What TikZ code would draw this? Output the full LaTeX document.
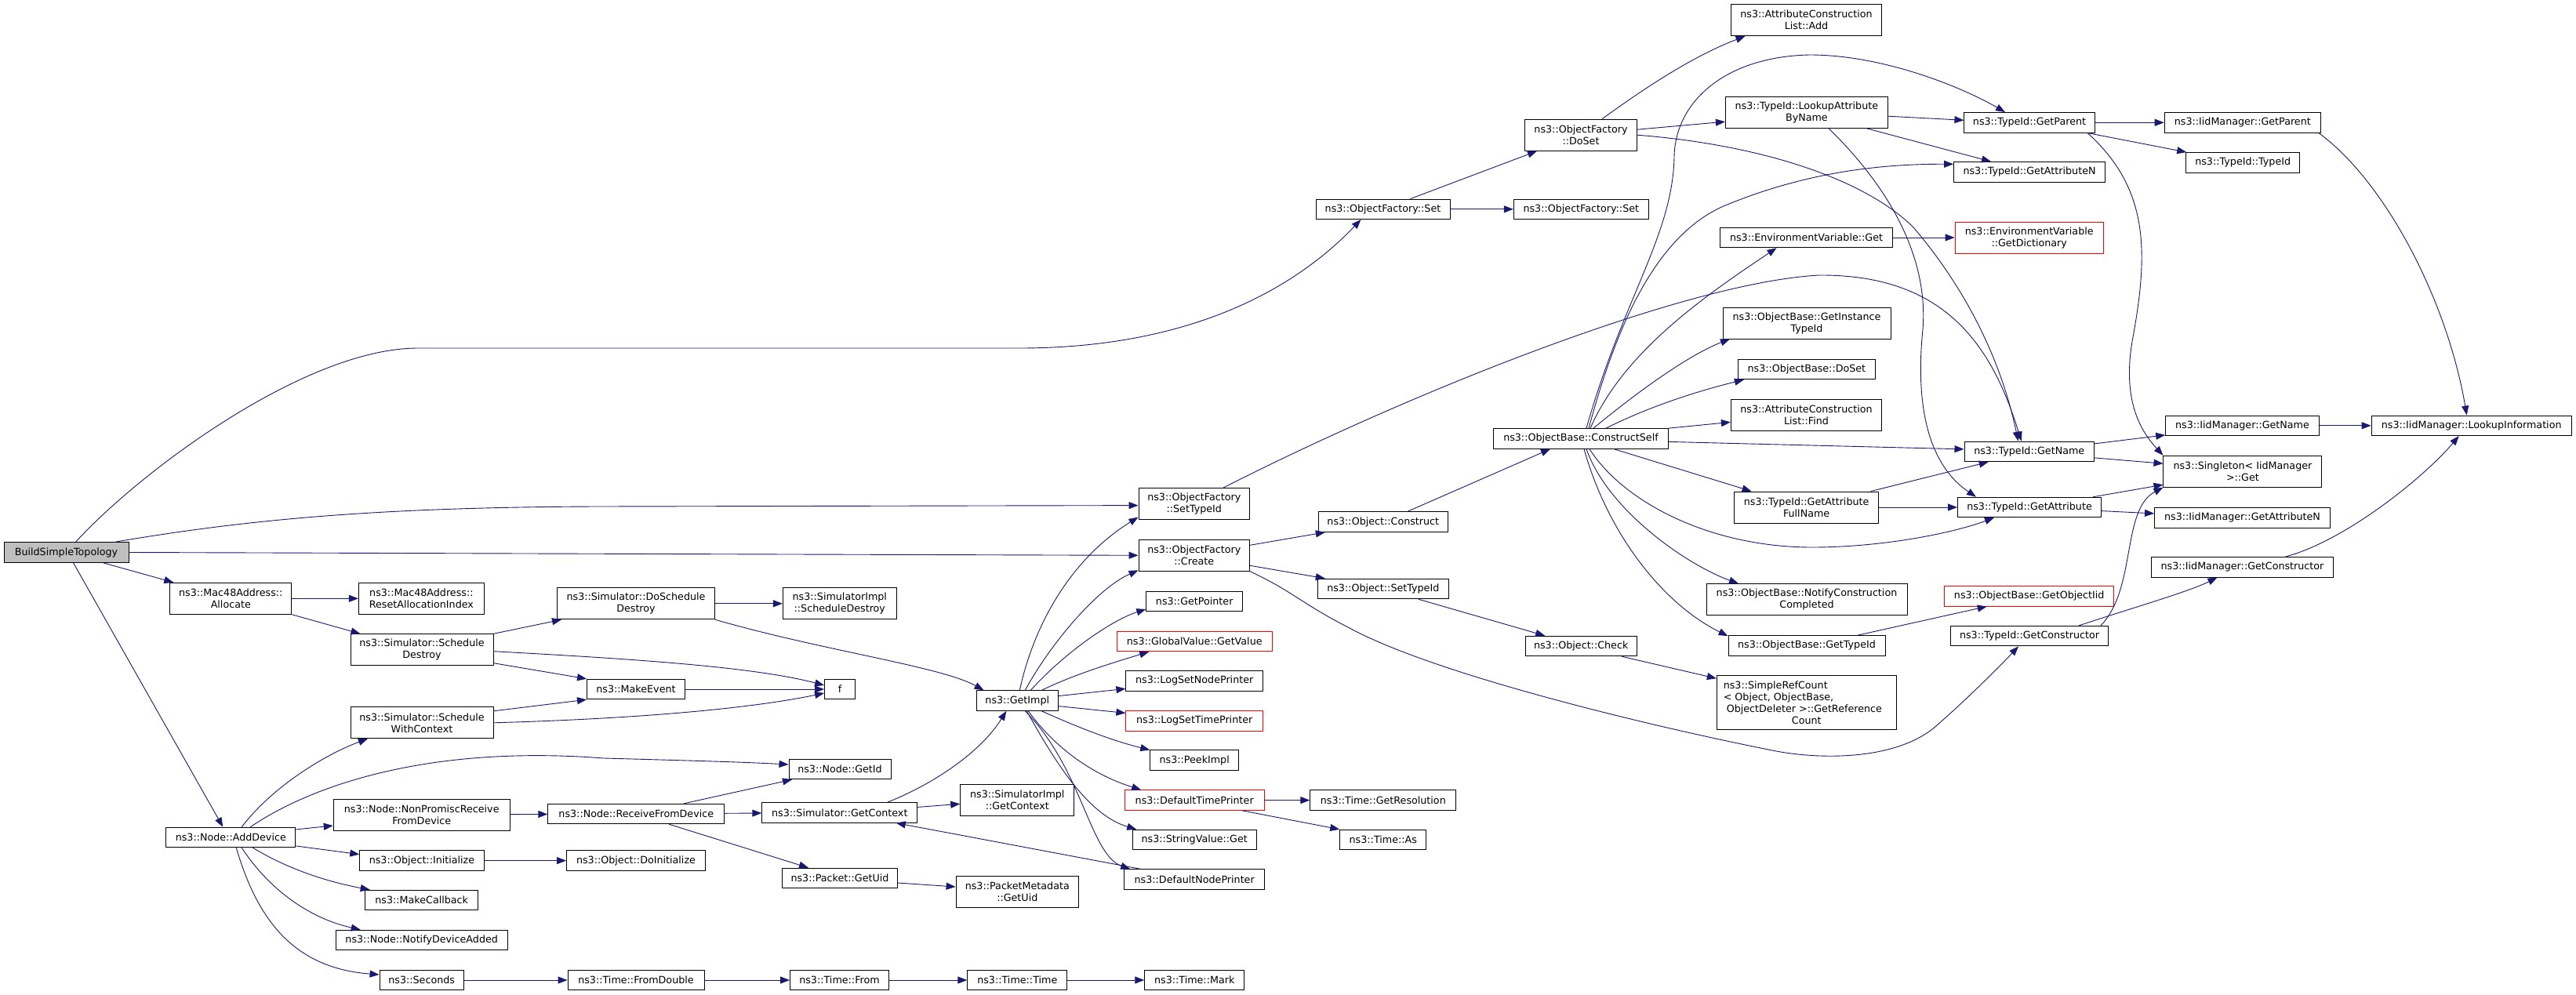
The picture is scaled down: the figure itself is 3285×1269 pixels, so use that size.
\documentclass[tikz,border=0pt]{standalone}
\usepackage{fontspec}
\setmainfont{DejaVu Sans}
\usetikzlibrary{arrows.meta}
\definecolor{edgec}{HTML}{191970}
\definecolor{rootfill}{HTML}{BFBFBF}
\tikzset{
  box/.style={draw=black, line width=0.9pt, fill=white, inner sep=0pt, align=center,
    minimum height=25.6pt, font=\fontsize{12.7}{15}\selectfont},
  tall/.style={minimum height=40pt},
  redbox/.style={box, draw=red},
  rootbox/.style={box, fill=rootfill},
  edge/.style={draw=edgec, line width=0.9pt, -{Triangle[length=12pt,width=9pt]}, fill=none},
}
\begin{document}
\begin{tikzpicture}[x=1pt,y=-1pt]
\fill[white] (0,0) rectangle (3285,1269);
\useasboundingbox (0,0) rectangle (3285,1269);
% ---------- nodes ----------
\node[rootbox, minimum width=159pt] (bst) at (84.5,704.5) {BuildSimpleTopology};
\node[box, tall, minimum width=155pt] (alloc) at (294.3,763.3) {ns3::Mac48Address::\\Allocate};
\node[box, tall, minimum width=160pt] (reset) at (537.4,763.3) {ns3::Mac48Address::\\ResetAllocationIndex};
\node[box, tall, minimum width=182pt] (schdes) at (538,828.7) {ns3::Simulator::Schedule\\Destroy};
\node[box, tall, minimum width=201pt] (dosch) at (811,769.8) {ns3::Simulator::DoSchedule\\Destroy};
\node[box, tall, minimum width=145pt] (implsd) at (1070.8,769.8) {ns3::SimulatorImpl\\::ScheduleDestroy};
\node[box, minimum width=39pt] (f) at (1071,879) {f};
\node[box, minimum width=125pt] (mkev) at (811,879) {ns3::MakeEvent};
\node[box, tall, minimum width=182pt] (schwc) at (538,921.8) {ns3::Simulator::Schedule\\WithContext};
\node[box, minimum width=130pt] (getid) at (1071,981) {ns3::Node::GetId};
\node[box, tall, minimum width=225pt] (nonprom) at (537.7,1039) {ns3::Node::NonPromiscReceive\\FromDevice};
\node[box, minimum width=225pt] (recv) at (811.3,1038) {ns3::Node::ReceiveFromDevice};
\node[box, minimum width=198pt] (simctx) at (1070.8,1036.4) {ns3::Simulator::GetContext};
\node[box, minimum width=165pt] (adddev) at (294.3,1067.9) {ns3::Node::AddDevice};
\node[box, minimum width=158.5pt] (init) at (538,1097.6) {ns3::Object::Initialize};
\node[box, minimum width=177pt] (doinit) at (811,1097.6) {ns3::Object::DoInitialize};
\node[box, minimum width=147pt] (pktuid) at (1071,1120) {ns3::Packet::GetUid};
\node[box, minimum width=144pt] (mkcb) at (537.7,1148) {ns3::MakeCallback};
\node[box, minimum width=219.5pt] (notify) at (537.7,1199) {ns3::Node::NotifyDeviceAdded};
\node[box, minimum width=107.4pt] (secs) at (537.7,1250) {ns3::Seconds};
\node[box, minimum width=174pt] (fromdbl) at (811,1250) {ns3::Time::FromDouble};
\node[box, minimum width=126pt] (tfrom) at (1070.5,1250) {ns3::Time::From};
\node[box, minimum width=127pt] (ttime) at (1297.3,1250) {ns3::Time::Time};
\node[box, minimum width=127pt] (tmark) at (1523.2,1250) {ns3::Time::Mark};
\node[box, tall, minimum width=141.7pt] (settid) at (1522.8,642.6) {ns3::ObjectFactory\\::SetTypeId};
\node[box, tall, minimum width=141.7pt] (create) at (1522.8,708.3) {ns3::ObjectFactory\\::Create};
\node[box, minimum width=122.8pt] (getptr) at (1523.2,767) {ns3::GetPointer};
\node[redbox, minimum width=198.4pt] (gvget) at (1523.2,818) {ns3::GlobalValue::GetValue};
\node[box, minimum width=174.7pt] (lsnp) at (1523.2,868.4) {ns3::LogSetNodePrinter};
\node[redbox, minimum width=174.7pt] (lstp) at (1523.2,919.4) {ns3::LogSetTimePrinter};
\node[box, minimum width=113pt] (peek) at (1523.2,969.7) {ns3::PeekImpl};
\node[redbox, minimum width=177.6pt] (dtp) at (1523.2,1020.6) {ns3::DefaultTimePrinter};
\node[box, minimum width=158pt] (svget) at (1523.2,1071) {ns3::StringValue::Get};
\node[box, minimum width=179pt] (dnp) at (1523.2,1121.7) {ns3::DefaultNodePrinter};
\node[box, minimum width=104.6pt] (getimpl) at (1297.3,893.6) {ns3::GetImpl};
\node[box, tall, minimum width=145.2pt] (implctx) at (1297.3,1020.6) {ns3::SimulatorImpl\\::GetContext};
\node[box, tall, minimum width=156.5pt] (pmuid) at (1297.3,1137.6) {ns3::PacketMetadata\\::GetUid};
\node[box, minimum width=164.8pt] (construct) at (1763.8,665.6) {ns3::Object::Construct};
\node[box, minimum width=166.3pt] (osettid) at (1763.8,751) {ns3::Object::SetTypeId};
\node[box, minimum width=142.5pt] (check) at (2016.2,824) {ns3::Object::Check};
\node[box, minimum width=186pt] (getres) at (1763.8,1020.6) {ns3::Time::GetResolution};
\node[box, minimum width=110.2pt] (tas) at (1763.8,1071) {ns3::Time::As};
\node[box, tall, minimum width=143pt] (doset) at (2016,172.2) {ns3::ObjectFactory\\::DoSet};
\node[box, minimum width=171pt] (ofset1) at (1763.5,266.8) {ns3::ObjectFactory::Set};
\node[box, minimum width=172pt] (ofset2) at (2016.3,266.8) {ns3::ObjectFactory::Set};
\node[box, minimum width=223pt] (cself) at (2016,559.4) {ns3::ObjectBase::ConstructSelf};
\node[box, tall, minimum width=192.3pt] (acladd) at (2303.5,25.7) {ns3::AttributeConstruction\\List::Add};
\node[box, tall, minimum width=207pt] (lookup) at (2303.9,143.2) {ns3::TypeId::LookupAttribute\\ByName};
\node[box, minimum width=166.2pt] (tparent) at (2588,156.3) {ns3::TypeId::GetParent};
\node[box, minimum width=199.3pt] (iparent) at (2859.8,156.3) {ns3::IidManager::GetParent};
\node[box, minimum width=145.2pt] (typeid) at (2860.2,207.3) {ns3::TypeId::TypeId};
\node[box, minimum width=193pt] (tattrn) at (2588,219.3) {ns3::TypeId::GetAttributeN};
\node[box, minimum width=220.3pt] (envget) at (2303.5,303) {ns3::EnvironmentVariable::Get};
\node[redbox, tall, minimum width=189.4pt] (envdict) at (2587.7,303) {ns3::EnvironmentVariable\\::GetDictionary};
\node[box, tall, minimum width=214pt] (ginst) at (2304,412) {ns3::ObjectBase::GetInstance\\TypeId};
\node[box, minimum width=174.6pt] (obdoset) at (2303.9,471) {ns3::ObjectBase::DoSet};
\node[box, tall, minimum width=192.3pt] (aclfind) at (2303.5,529.4) {ns3::AttributeConstruction\\List::Find};
\node[box, minimum width=165.5pt] (tname) at (2587.7,575.9) {ns3::TypeId::GetName};
\node[box, minimum width=195.8pt] (iname) at (2859.5,542.8) {ns3::IidManager::GetName};
\node[box, minimum width=255.3pt] (lookinfo) at (3151.7,542.8) {ns3::IidManager::LookupInformation};
\node[box, tall, minimum width=202pt] (singget) at (2859.9,601.2) {ns3::Singleton< IidManager\\>::Get};
\node[box, tall, minimum width=183.8pt] (fullname) at (2303.6,647) {ns3::TypeId::GetAttribute\\FullName};
\node[box, minimum width=183pt] (tattr) at (2588,647) {ns3::TypeId::GetAttribute};
\node[box, minimum width=224pt] (iattrn) at (2859.5,660.4) {ns3::IidManager::GetAttributeN};
\node[box, minimum width=232pt] (ictor) at (2859.5,723.3) {ns3::IidManager::GetConstructor};
\node[redbox, minimum width=216pt] (objiid) at (2587.7,760.2) {ns3::ObjectBase::GetObjectIid};
\node[box, tall, minimum width=256pt] (notifyc) at (2304,764.7) {ns3::ObjectBase::NotifyConstruction\\Completed};
\node[box, minimum width=200pt] (obtid) at (2304,823.4) {ns3::ObjectBase::GetTypeId};
\node[box, minimum width=201.4pt] (tctor) at (2588,811.1) {ns3::TypeId::GetConstructor};
\node[box, minimum width=229pt, minimum height=69pt] (refcnt) at (2303.8,896.2)
  {\parbox{212pt}{\raggedright ns3::SimpleRefCount\\{}< Object, ObjectBase,\\\hspace*{4pt}ObjectDeleter >::GetReference\\\makebox[212pt]{Count}}};
% ---------- edges ----------
\path[edge] ([xshift=12pt]bst.north) .. controls (180,600) and (390,444) .. (533,444) -- (1300,444) .. controls (1500,444) and (1640,380) .. ([xshift=-28pt]ofset1.south);
\path[edge] ([xshift=62pt]bst.north) .. controls (330,660) and (500,647) .. (760,646) -- ([yshift=-2pt]settid.west);
\path[edge] (bst.east) -- (create.west);
\path[edge] ([xshift=47pt]bst.south) -- ([xshift=-73pt]alloc.north);
\path[edge] ([xshift=9pt]bst.south) -- ([xshift=-10pt]adddev.north);
\path[edge] (alloc) -- (reset);
\path[edge] (alloc.south east) -- ([xshift=-78.5pt]schdes.north);
\path[edge] (schdes.north east) -- ([xshift=-95pt]dosch.south);
\path[edge] ([yshift=-2pt]schdes.east) .. controls (800,840) and (960,850) .. ([yshift=5pt]f.west);
\path[edge] ([yshift=-17pt]schdes.east) -- (mkev.north west);
\path[edge] (dosch) -- (implsd);
\path[edge] (dosch.south east) .. controls (1050,830) and (1200,850) .. ([xshift=10pt]getimpl.north west);
\path[edge] (mkev) -- (f);
\path[edge] ([yshift=15pt]schwc.east) -- (mkev.south west);
\path[edge] (schwc.east) .. controls (800,917) and (950,905) .. ([yshift=-5pt]f.west);
\path[edge] ([xshift=14pt]adddev.north) .. controls (350,1000) and (420,960) .. ([xshift=-69pt]schwc.south);
\path[edge] ([xshift=25pt]adddev.north) .. controls (400,1000) and (550,950) .. (770,967) .. controls (880,970) and (950,972) .. ([yshift=6pt]getid.west);
\path[edge] ([yshift=10pt]adddev.east) -- ([yshift=-14pt]nonprom.west);
\path[edge] ([yshift=-11pt]adddev.east) -- ([yshift=8pt]init.west);
\path[edge] ([xshift=28pt]adddev.south) .. controls (370,1110) and (420,1125) .. ([xshift=-66pt]mkcb.north);
\path[edge] ([xshift=14pt]adddev.south) .. controls (340,1130) and (390,1170) .. ([xshift=-78pt]notify.north);
\path[edge] ([xshift=7pt]adddev.south) .. controls (330,1180) and (380,1235) .. ([yshift=7pt]secs.west);
\path[edge] (nonprom) -- (recv);
\path[edge] ([xshift=61pt]recv.north) -- ([xshift=-61pt]getid.south);
\path[edge] (recv) -- (simctx);
\path[edge] ([xshift=42pt]recv.south) -- ([xshift=-40pt]pktuid.north);
\path[edge] (init) -- (doinit);
\path[edge] (secs) -- (fromdbl);
\path[edge] (fromdbl) -- (tfrom);
\path[edge] (tfrom) -- (ttime);
\path[edge] (ttime) -- (tmark);
\path[edge] ([xshift=61pt]simctx.north) .. controls (1190,1000) and (1250,960) .. ([xshift=-14pt]getimpl.south);
\path[edge] ([yshift=7pt]simctx.east) -- ([yshift=-4.7pt]implctx.west);
\path[edge] ([yshift=-6pt]pktuid.east) -- ([yshift=6.6pt]pmuid.west);
\path[edge] ([xshift=-68pt]dnp.north) -- ([xshift=72pt]simctx.south);
% GetImpl fan
\path[edge] ([xshift=3pt]getimpl.north) .. controls (1320,790) and (1370,710) .. ([yshift=-17pt]settid.west);
\path[edge] ([xshift=10pt]getimpl.north) .. controls (1340,820) and (1400,750) .. ([yshift=-19pt]create.west);
\path[edge] ([xshift=17pt]getimpl.north) .. controls (1360,830) and (1420,790) .. ([yshift=-10pt]getptr.west);
\path[edge] ([xshift=31pt]getimpl.north) .. controls (1370,860) and (1420,845) .. ([xshift=-58pt]gvget.south);
\path[edge] ([yshift=6pt]getimpl.east) -- ([yshift=-10pt]lsnp.west);
\path[edge] ([yshift=-7pt]getimpl.east) -- ([yshift=10pt]lstp.west);
\path[edge] ([xshift=31pt]getimpl.south) .. controls (1380,930) and (1420,945) .. (peek.north west);
\path[edge] ([xshift=14pt]getimpl.south) .. controls (1350,960) and (1400,990) .. ([xshift=-68pt]dtp.north);
\path[edge] ([xshift=12pt]getimpl.south) .. controls (1350,980) and (1390,1040) .. ([xshift=-74pt]svget.north);
\path[edge] ([xshift=10pt]getimpl.south) .. controls (1380,980) and (1390,1090) .. ([xshift=-82pt]dnp.north);
% factory side
\path[edge] ([xshift=37pt]settid.north) .. controls (1800,500) and (2150,360) .. (2320,351) .. controls (2480,350) and (2540,440) .. ([xshift=-10pt]tname.north);
\path[edge] ([yshift=13pt]create.east) -- ([xshift=-74pt]construct.south);
\path[edge] ([yshift=-13pt]create.east) -- ([xshift=-74pt]osettid.north);
\path[edge] (create.south east) .. controls (1650,755) and (1660,770) .. (1721,801) .. controls (1830,860) and (2100,925) .. (2255,956) .. controls (2320,970) and (2420,970) .. (2470,925) .. controls (2510,890) and (2550,850) .. ([xshift=-14pt]tctor.south);
\path[edge] ([xshift=31pt]construct.north) -- ([xshift=-39pt]cself.south);
\path[edge] ([xshift=45pt]osettid.south) -- ([xshift=-46pt]check.north);
\path[edge] ([xshift=52pt]check.south) -- ([yshift=-4pt]refcnt.north west);
\path[edge] (dtp) -- (getres);
\path[edge] ([xshift=61pt]dtp.south) -- (tas.north west);
\path[edge] ([xshift=35pt]ofset1.north) -- ([xshift=-56pt]doset.south);
\path[edge] (ofset1) -- (ofset2);
\path[edge] ([xshift=27pt]doset.north) .. controls (2080,125) and (2150,75) .. ([xshift=-78pt]acladd.south);
\path[edge] ([yshift=7pt]doset.east) -- ([yshift=-12pt]lookup.west);
\path[edge] (doset.east) .. controls (2250,185) and (2380,230) .. (2440,290) .. controls (2500,360) and (2550,450) .. ([xshift=-14pt]tname.north);
% ConstructSelf fan
\path[edge] ([xshift=7pt]cself.north) .. controls (2070,380) and (2133,300) .. (2135,200) .. controls (2136,130) and (2200,72) .. (2308,70) .. controls (2400,70) and (2500,110) .. ([xshift=-31pt]tparent.north);
\path[edge] ([xshift=10pt]cself.north) .. controls (2060,420) and (2110,300) .. (2200,262) .. controls (2290,225) and (2380,209) .. ([yshift=10pt]tattrn.west);
\path[edge] ([xshift=12pt]cself.north) .. controls (2070,450) and (2170,380) .. ([xshift=-38pt]envget.south);
\path[edge] ([xshift=16pt]cself.north) .. controls (2100,490) and (2160,450) .. ([xshift=-98pt]ginst.south);
\path[edge] ([xshift=32pt]cself.north) .. controls (2100,520) and (2160,500) .. ([xshift=-80pt]obdoset.south);
\path[edge] (cself.north east) -- ([yshift=-9pt]aclfind.west);
\path[edge] ([yshift=-4pt]cself.east) -- ([yshift=3pt]tname.west);
\path[edge] ([xshift=42pt]cself.south) -- ([xshift=-70pt]fullname.north);
\path[edge] ([xshift=11pt]cself.south) .. controls (2070,640) and (2180,698) .. (2311,698) .. controls (2400,698) and (2490,680) .. ([xshift=-45pt]tattr.south);
\path[edge] ([xshift=7pt]cself.south) .. controls (2050,650) and (2150,720) .. ([xshift=-87pt]notifyc.north);
\path[edge] ([xshift=4pt]cself.south) .. controls (2050,680) and (2120,770) .. ([yshift=-1pt]obtid.north west);
% TypeId side
\path[edge] ([xshift=82pt]fullname.north) -- ([xshift=-52pt]tname.south);
\path[edge] (fullname) -- (tattr);
\path[edge] ([yshift=-5pt]lookup.east) -- ([yshift=3pt]tparent.west);
\path[edge] ([xshift=76pt]lookup.south) -- ([xshift=-49pt]tattrn.north);
\path[edge] ([xshift=28pt]lookup.south) .. controls (2400,230) and (2460,320) .. (2452,420) .. controls (2440,540) and (2470,600) .. ([xshift=-68pt]tattr.north);
\path[edge] (tparent) -- (iparent);
\path[edge] ([xshift=74pt]tparent.south) -- ([xshift=-72pt]typeid.north);
\path[edge] ([xshift=74pt]tparent.south) .. controls (2740,240) and (2740,320) .. (2720,430) .. controls (2705,510) and (2730,550) .. (singget.north west);
\path[edge] ([xshift=97pt]iparent.south) .. controls (3040,230) and (3120,380) .. ([xshift=-6pt]lookinfo.north);
\path[edge] (envget) -- (envdict);
\path[edge] ([yshift=10pt]tname.east) -- ([yshift=-12pt]iname.west);
\path[edge] ([yshift=-8pt]tname.east) -- ([yshift=10pt]singget.west);
\path[edge] (iname) -- (lookinfo);
\path[edge] ([xshift=81pt]tattr.north) -- ([yshift=-17pt]singget.west);
\path[edge] ([yshift=-4.6pt]tattr.east) -- ([yshift=5.5pt]iattrn.west);
\path[edge] ([xshift=65pt]obtid.north) -- ([xshift=-54pt]objiid.south);
\path[edge] ([xshift=63pt]tctor.north) .. controls (2720,775) and (2790,755) .. ([xshift=-32pt]ictor.south);
\path[edge] ([xshift=91pt]tctor.north) .. controls (2725,750) and (2705,650) .. (singget.south west);
\path[edge] ([xshift=55pt]ictor.north) .. controls (2990,690) and (3090,610) .. ([xshift=-16pt]lookinfo.south);
\end{tikzpicture}
\end{document}
